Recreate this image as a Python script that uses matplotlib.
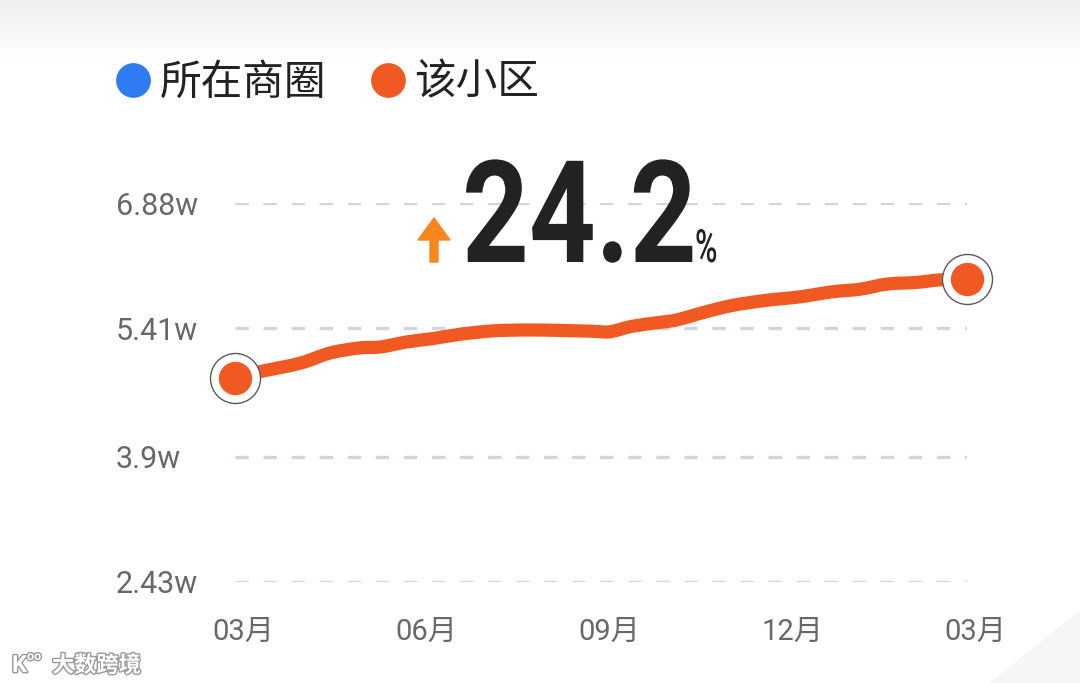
import matplotlib

matplotlib.use("Agg")
import matplotlib.pyplot as plt
import matplotlib.patheffects as pe
import numpy as np
from matplotlib.lines import Line2D
from matplotlib.patches import FancyArrow, PathPatch, Polygon
from matplotlib.path import Path
from matplotlib.transforms import Affine2D, IdentityTransform, ScaledTranslation

# months since the first 03月 (12 = next year's 03月), price in w (10k)
months = [0, 0.41, 1.07, 1.56, 2.05, 2.38, 2.82, 3.25, 3.69, 4.23, 4.79, 5.33,
          5.87, 6.15, 6.52, 6.97, 7.25, 7.70, 8.16, 8.72, 9.26, 9.80, 10.25,
          10.69, 11.18, 11.56, 12]
price = [4.826, 4.90, 5.00, 5.12, 5.18, 5.19, 5.25, 5.29, 5.34, 5.38, 5.39, 5.385,
         5.375, 5.37, 5.435, 5.48, 5.51, 5.60, 5.68, 5.74, 5.78, 5.84, 5.87,
         5.93, 5.95, 5.98, 5.99]

x_ticks = [0, 3, 6, 9, 12]
x_labels = ["03月", "06月", "09月", "12月", "03月"]
y_ticks = [2.43, 3.9, 5.41, 6.88]
y_labels = ["2.43w", "3.9w", "5.41w", "6.88w"]

legend_labels = ["所在商圈", "该小区"]
legend_colors = ["#2f7bf4", "#f05a22"]
change_text = "24.2"

LINE_COLOR = "#f05a22"
W, H = 1080, 683


class Stretch(pe.AbstractPathEffect):
    """Make a text taller around its baseline (display pixels)."""

    def __init__(self, y0, sy):
        super().__init__()
        self.y0 = y0
        self.sy = sy

    def draw_path(self, renderer, gc, tpath, affine, rgbFace=None):
        tall = Affine2D().translate(0, -self.y0).scale(1, self.sy).translate(0, self.y0)
        renderer.draw_path(gc, tpath, affine + tall, rgbFace)


def smooth_path(xs, ys):
    # cubic bezier segments through the points (like a "smooth" line option)
    pts = np.column_stack([xs, ys])
    n = len(pts)
    verts = [pts[0]]
    codes = [Path.MOVETO]
    for i in range(n - 1):
        p0 = pts[max(i - 1, 0)]
        p1 = pts[i]
        p2 = pts[i + 1]
        p3 = pts[min(i + 2, n - 1)]
        verts += [p1 + (p2 - p0) / 6, p2 - (p3 - p1) / 6, p2]
        codes += [Path.CURVE4] * 3
    return Path(verts, codes)


plt.rcParams["font.family"] = ["Roboto", "Noto Sans CJK SC", "DejaVu Sans"]
plt.rcParams["lines.scale_dashes"] = False

fig = plt.figure(figsize=(W / 100, H / 100), dpi=100)
fig.patch.set_facecolor("white")

# soft grey band at the top of the screenshot
bg = fig.add_axes([0, (H - 62) / H, 1, 62 / H], zorder=-5)
grad = np.linspace(0.935, 1.0, 62).reshape(-1, 1)
bg.imshow(np.repeat(grad, 2, axis=1), cmap="gray", vmin=0, vmax=1,
          aspect="auto", extent=[0, 1, 0, 1], origin="upper")
bg.axis("off")

# page edge in the bottom-right corner
fig.patches.append(Polygon([[1080, 683 - 610], [990, 0], [1080, 0]], closed=True,
                           facecolor="#f6f6f6", edgecolor="none",
                           transform=IdentityTransform(), zorder=-5))

ax = fig.add_axes([235 / W, 101.3 / H, (967 - 235) / W, 378.4 / H])
ax.set_xlim(0, 12)
ax.set_ylim(2.43, 6.88)
for s in ax.spines.values():
    s.set_visible(False)
ax.patch.set_alpha(0)

ax.set_yticks(y_ticks)
ax.set_yticklabels(y_labels)
ax.set_xticks(x_ticks)
ax.set_xticklabels(x_labels)
ax.tick_params(axis="both", length=0, colors="#686868", labelsize=21)
ax.tick_params(axis="y", pad=86, labelsize=22)
ax.tick_params(axis="x", pad=26)
for lab in ax.get_yticklabels():
    lab.set_horizontalalignment("left")
    lab.set_verticalalignment("center_baseline")
shift = ScaledTranslation(8 / 100, 0, fig.dpi_scale_trans)
for lab in ax.get_xticklabels():
    lab.set_transform(lab.get_transform() + shift)

ax.yaxis.grid(True, color="#d2d5de", linewidth=2.4, linestyle=(0, (9.6, 10.6)))
ax.set_axisbelow(True)

ax.add_patch(PathPatch(smooth_path(months, price), fill=False, edgecolor=LINE_COLOR,
                       linewidth=9.5, capstyle="round", joinstyle="round",
                       zorder=3, clip_on=False))
ends_x = [months[0], months[-1]]
ends_y = [price[0], price[-1]]
ax.plot(ends_x, ends_y, linestyle="none", marker="o", markersize=36,
        markerfacecolor="white", markeredgecolor="#5a5a5a", markeredgewidth=1.0,
        zorder=4, clip_on=False)
ax.plot(ends_x, ends_y, linestyle="none", marker="o", markersize=23,
        markerfacecolor=LINE_COLOR, markeredgecolor=LINE_COLOR,
        zorder=5, clip_on=False)

# legend
handles = [Line2D([], [], linestyle="none", marker="o", markersize=24,
                  markerfacecolor=c, markeredgecolor=c) for c in legend_colors]
ax.legend(handles, legend_labels, loc="center left", ncol=2, frameon=False,
          bbox_to_anchor=(116 / W, (H - 83) / H), bbox_transform=fig.transFigure,
          prop={"family": ["Noto Sans CJK SC"], "size": 30},
          labelcolor="#222222", handlelength=0.8, handletextpad=0.24,
          columnspacing=1.08, borderpad=0, borderaxespad=0)

# change figure: narrow digits drawn as a taller version of a smaller font
base_y = H - 262
fig.text(462 / W, base_y / H, change_text, fontsize=84, fontweight="bold",
         family=["Roboto"], color="#222222", ha="left", va="baseline",
         path_effects=[Stretch(base_y, 1.22)])
fig.text(695 / W, base_y / H, "%", fontsize=22, color="#222222",
         family=["Roboto"], fontweight="medium", ha="left", va="baseline",
         path_effects=[Stretch(base_y, 1.5)])
fig.patches.append(FancyArrow(434, H - 262, 0, 44, width=8, head_width=32,
                              head_length=22, length_includes_head=True,
                              color="#f7861f", transform=IdentityTransform()))

# watermark
stroke = [pe.withStroke(linewidth=2, foreground="#9a9a9a")]
fig.text(12 / W, (H - 672) / H, "K", fontsize=17, color="white",
         fontweight="bold", path_effects=stroke)
fig.text(27 / W, (H - 660) / H, "oo", fontsize=9, color="white",
         fontweight="bold", path_effects=stroke)
fig.text(52 / W, (H - 672) / H, "大数跨境", fontsize=16, color="white",
         family=["Noto Sans CJK SC"], fontweight="bold", path_effects=stroke)

fig.savefig("out.png", dpi=100)
